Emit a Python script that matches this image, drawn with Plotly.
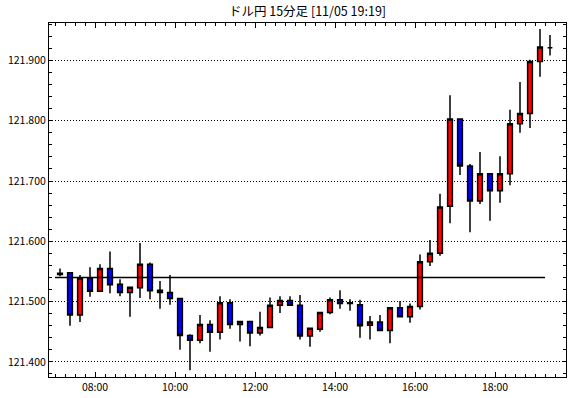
import pandas as pd
import plotly.graph_objects as go

title_text = "ドル円 15分足 [11/05 19:19]"
date_str = "2019-11-05"

times = ["07:00", "07:15", "07:30", "07:45", "08:00", "08:15", "08:30", "08:45",
         "09:00", "09:15", "09:30", "09:45", "10:00", "10:15", "10:30", "10:45",
         "11:00", "11:15", "11:30", "11:45", "12:00", "12:15", "12:30", "12:45",
         "13:00", "13:15", "13:30", "13:45", "14:00", "14:15", "14:30", "14:45",
         "15:00", "15:15", "15:30", "15:45", "16:00", "16:15", "16:30", "16:45",
         "17:00", "17:15", "17:30", "17:45", "18:00", "18:15", "18:30", "18:45",
         "19:00", "19:15"]

opens = [121.547, 121.548, 121.478, 121.539, 121.517, 121.555, 121.529, 121.515,
         121.523, 121.562, 121.519, 121.515, 121.505, 121.444, 121.436, 121.462,
         121.449, 121.498, 121.462, 121.467, 121.448, 121.457, 121.494, 121.502,
         121.494, 121.443, 121.454, 121.482, 121.503, 121.498, 121.495, 121.461,
         121.466, 121.452, 121.490, 121.475, 121.492, 121.566, 121.580, 121.658,
         121.803, 121.725, 121.667, 121.712, 121.684, 121.712, 121.795, 121.812,
         121.898, 121.921]
highs = [121.555, 121.549, 121.544, 121.557, 121.562, 121.583, 121.537, 121.525,
         121.597, 121.565, 121.534, 121.544, 121.506, 121.446, 121.478, 121.469,
         121.509, 121.504, 121.468, 121.468, 121.483, 121.507, 121.509, 121.509,
         121.511, 121.457, 121.483, 121.507, 121.519, 121.504, 121.503, 121.476,
         121.478, 121.491, 121.501, 121.497, 121.578, 121.602, 121.679, 121.842,
         121.804, 121.728, 121.748, 121.713, 121.741, 121.818, 121.864, 121.901,
         121.952, 121.942]
lows = [121.542, 121.460, 121.466, 121.508, 121.516, 121.514, 121.509, 121.475,
        121.506, 121.504, 121.488, 121.495, 121.420, 121.386, 121.431, 121.417,
        121.437, 121.455, 121.434, 121.426, 121.444, 121.456, 121.481, 121.493,
        121.437, 121.425, 121.450, 121.479, 121.488, 121.485, 121.440, 121.437,
        121.451, 121.431, 121.474, 121.465, 121.487, 121.559, 121.576, 121.630,
        121.710, 121.615, 121.662, 121.634, 121.664, 121.693, 121.780, 121.788,
        121.873, 121.908]
closes = [121.545, 121.478, 121.539, 121.517, 121.555, 121.528, 121.515, 121.524,
          121.562, 121.518, 121.515, 121.505, 121.444, 121.436, 121.462, 121.449,
          121.498, 121.462, 121.467, 121.448, 121.457, 121.494, 121.502, 121.494,
          121.443, 121.456, 121.482, 121.503, 121.497, 121.497, 121.460, 121.466,
          121.452, 121.490, 121.475, 121.492, 121.566, 121.580, 121.657, 121.803,
          121.725, 121.667, 121.712, 121.684, 121.712, 121.795, 121.812, 121.898,
          121.922, 121.921]

ref_level = 121.540

y_ticks = [121.400, 121.500, 121.600, 121.700, 121.800, 121.900]
x_tick_labels = ["08:00", "10:00", "12:00", "14:00", "16:00", "18:00"]

starts = pd.to_datetime([f"{date_str} {t}" for t in times])
centers = starts + pd.Timedelta(minutes=7.5)

fig = go.Figure()
fig.add_trace(go.Candlestick(
    x=centers, open=opens, high=highs, low=lows, close=closes,
    increasing=dict(fillcolor="#ff0000", line=dict(color="black", width=1.5)),
    decreasing=dict(fillcolor="#0000ff", line=dict(color="black", width=1.5)),
    whiskerwidth=0, showlegend=False,
))
fig.add_trace(go.Scatter(
    x=[starts[0], starts[-1]], y=[ref_level, ref_level], mode="lines",
    line=dict(color="black", width=1.5), showlegend=False, hoverinfo="skip",
))

font_name = "Noto Sans CJK JP"
fig.update_layout(
    width=570, height=398,
    margin=dict(l=49, r=4, t=23, b=21, autoexpand=False),
    paper_bgcolor="white", plot_bgcolor="white",
    font=dict(family=font_name, size=11, color="black"),
    title=dict(text=title_text, x=(49 + 566) / 2 / 570, xanchor="center",
               y=1 - 12 / 398, yanchor="middle", automargin=False,
               font=dict(family=font_name, size=12.5, color="black")),
    boxgap=0.32,
)

tick_dates = pd.to_datetime([f"{date_str} {t}" for t in x_tick_labels])
fig.update_xaxes(
    type="date", automargin=False,
    range=[pd.Timestamp(f"{date_str} 06:51"), pd.Timestamp(f"{date_str} 19:46:30")],
    tickvals=tick_dates, ticktext=x_tick_labels,
    ticks="inside", ticklen=5, tickcolor="black", tickwidth=1,
    showline=True, linecolor="black", linewidth=1.2, mirror="allticks",
    showgrid=False, zeroline=False,
    minor=dict(dtick=15 * 60 * 1000, tick0=f"{date_str} 07:00", ticks="inside",
               ticklen=3, tickcolor="black", tickwidth=1, showgrid=False),
    rangeslider=dict(visible=False),
    tickfont=dict(size=10.5),
)
fig.update_yaxes(
    automargin=False,
    range=[121.375, 121.962],
    tickvals=y_ticks, tickformat=".3f",
    ticks="inside", ticklen=4, tickcolor="black", tickwidth=1,
    showline=True, linecolor="black", linewidth=1.2, mirror="allticks",
    showgrid=True, gridcolor="black", griddash="1px,2px", gridwidth=1,
    zeroline=False,
    minor=dict(dtick=0.02, tick0=121.4, ticks="inside", ticklen=3,
               tickcolor="black", tickwidth=1, showgrid=False),
    tickfont=dict(size=10.5),
)

fig.write_html("out.html",
               config={"displayModeBar": False},
               post_script="document.body.style.margin='0';"
                           "document.documentElement.style.overflow='hidden';")
